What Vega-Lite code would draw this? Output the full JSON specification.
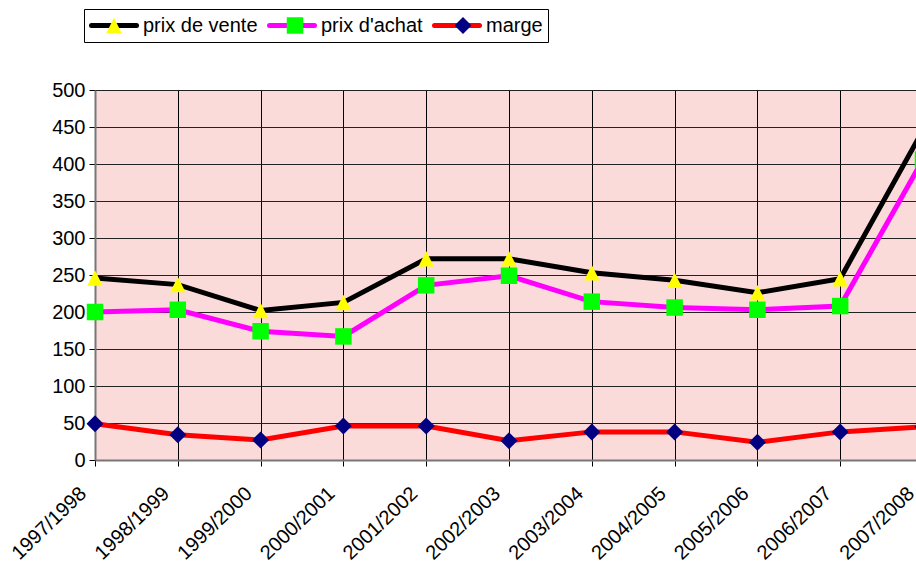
{
  "$schema": "https://vega.github.io/schema/vega-lite/v6.json",
  "width": 821,
  "height": 370,
  "autosize": {"type": "none"},
  "padding": {"left": 95, "top": 90, "right": 0, "bottom": 106},
  "background": "white",
  "config": {
    "view": {"fill": "#fbdada", "stroke": null},
    "font": "Liberation Sans"
  },
  "data": {
    "values": [
      {"annee": "1997/1998", "serie": "prix de vente", "valeur": 246},
      {"annee": "1998/1999", "serie": "prix de vente", "valeur": 237},
      {"annee": "1999/2000", "serie": "prix de vente", "valeur": 202},
      {"annee": "2000/2001", "serie": "prix de vente", "valeur": 213},
      {"annee": "2001/2002", "serie": "prix de vente", "valeur": 272},
      {"annee": "2002/2003", "serie": "prix de vente", "valeur": 272},
      {"annee": "2003/2004", "serie": "prix de vente", "valeur": 253},
      {"annee": "2004/2005", "serie": "prix de vente", "valeur": 243},
      {"annee": "2005/2006", "serie": "prix de vente", "valeur": 226},
      {"annee": "2006/2007", "serie": "prix de vente", "valeur": 245},
      {"annee": "2007/2008", "serie": "prix de vente", "valeur": 446},
      {"annee": "1997/1998", "serie": "prix d'achat", "valeur": 200},
      {"annee": "1998/1999", "serie": "prix d'achat", "valeur": 203},
      {"annee": "1999/2000", "serie": "prix d'achat", "valeur": 174},
      {"annee": "2000/2001", "serie": "prix d'achat", "valeur": 167},
      {"annee": "2001/2002", "serie": "prix d'achat", "valeur": 236},
      {"annee": "2002/2003", "serie": "prix d'achat", "valeur": 249},
      {"annee": "2003/2004", "serie": "prix d'achat", "valeur": 214},
      {"annee": "2004/2005", "serie": "prix d'achat", "valeur": 206},
      {"annee": "2005/2006", "serie": "prix d'achat", "valeur": 203},
      {"annee": "2006/2007", "serie": "prix d'achat", "valeur": 208},
      {"annee": "2007/2008", "serie": "prix d'achat", "valeur": 406},
      {"annee": "1997/1998", "serie": "marge", "valeur": 49},
      {"annee": "1998/1999", "serie": "marge", "valeur": 34},
      {"annee": "1999/2000", "serie": "marge", "valeur": 27},
      {"annee": "2000/2001", "serie": "marge", "valeur": 46},
      {"annee": "2001/2002", "serie": "marge", "valeur": 46},
      {"annee": "2002/2003", "serie": "marge", "valeur": 26},
      {"annee": "2003/2004", "serie": "marge", "valeur": 38},
      {"annee": "2004/2005", "serie": "marge", "valeur": 38},
      {"annee": "2005/2006", "serie": "marge", "valeur": 24},
      {"annee": "2006/2007", "serie": "marge", "valeur": 38},
      {"annee": "2007/2008", "serie": "marge", "valeur": 45}
    ]
  },
  "encoding": {
    "x": {
      "field": "annee",
      "type": "ordinal",
      "scale": {"type": "point", "padding": 0, "range": [0, 828],
        "domain": ["1997/1998","1998/1999","1999/2000","2000/2001","2001/2002","2002/2003","2003/2004","2004/2005","2005/2006","2006/2007","2007/2008"]},
      "axis": {
        "title": null,
        "labelAngle": -44,
        "labelAlign": "right",
        "labelBaseline": "top",
        "labelFontSize": 20,
        "labelColor": "black",
        "labelFont": "Liberation Sans",
        "labelPadding": 17,
        "labelOffset": -19,
        "labelOverlap": false,
        "labelBound": false,
        "grid": true,
        "gridColor": "black",
        "gridWidth": 1,
        "gridOpacity": 1,
        "tickColor": "black",
        "tickSize": 6,
        "domainColor": "#777777",
        "domainWidth": 2
      }
    },
    "y": {
      "field": "valeur",
      "type": "quantitative",
      "scale": {"domain": [0, 500], "nice": false, "zero": true},
      "axis": {
        "title": null,
        "values": [0, 50, 100, 150, 200, 250, 300, 350, 400, 450, 500],
        "labelFontSize": 20,
        "labelColor": "black",
        "labelFont": "Liberation Sans",
        "labelPadding": 4,
        "labelOverlap": false,
        "grid": true,
        "gridColor": "#222222",
        "gridWidth": 1,
        "gridOpacity": 1,
        "tickColor": "black",
        "tickSize": 6,
        "domainColor": "#777777",
        "domainWidth": 2
      }
    }
  },
  "layer": [
    {
      "mark": {"type": "line", "strokeWidth": 5},
      "encoding": {
        "stroke": {
          "field": "serie",
          "type": "nominal",
          "scale": {"domain": ["prix de vente", "prix d'achat", "marge"], "range": ["#000000", "#ff00ff", "#ff0000"]},
          "legend": {
            "title": null,
            "orient": "none",
            "legendX": -11,
            "legendY": -81,
            "direction": "horizontal",
            "symbolType": "M-1.8,0H1.8",
            "symbolSize": 625,
            "symbolStrokeWidth": 5,
            "symbolOffset": 10,
            "clipHeight": 23,
            "labelFontSize": 20,
            "labelFont": "Liberation Sans",
            "labelColor": "black",
            "labelOffset": 14,
            "labelLimit": 300,
            "columnPadding": 9,
            "padding": 5,
            "strokeColor": "black",
            "encode": {"symbols": {"update": {"strokeCap": {"value": "round"}}}}
          }
        },
        "detail": {"field": "serie"}
      }
    },
    {
      "mark": {"type": "point", "filled": true, "size": 625, "opacity": 1, "strokeWidth": 0},
      "encoding": {
        "fill": {
          "field": "serie",
          "type": "nominal",
          "scale": {"domain": ["prix de vente", "prix d'achat", "marge"], "range": ["#ffff00", "#00ff00", "#000080"]},
          "legend": {
            "title": null,
            "orient": "none",
            "legendX": -11,
            "legendY": -81,
            "direction": "horizontal",
            "symbolSize": 625,
            "symbolStrokeWidth": 0,
            "symbolOffset": 12.5,
            "clipHeight": 23,
            "labelFontSize": 20,
            "labelFont": "Liberation Sans",
            "labelOpacity": 0,
            "labelOffset": 19,
            "labelLimit": 300,
            "columnPadding": 9,
            "padding": 5
          }
        },
        "shape": {
          "field": "serie",
          "type": "nominal",
          "scale": {"domain": ["prix de vente", "prix d'achat", "marge"], "range": ["M0,-0.62L0.62,0.62L-0.62,0.62Z", "M-0.66,-0.66H0.66V0.66H-0.66Z", "M0,-0.68L0.68,0L0,0.68L-0.68,0Z"]},
          "legend": {
            "title": null,
            "orient": "none",
            "legendX": -11,
            "legendY": -81,
            "direction": "horizontal",
            "symbolSize": 625,
            "symbolStrokeWidth": 0,
            "symbolOffset": 12.5,
            "clipHeight": 23,
            "labelFontSize": 20,
            "labelFont": "Liberation Sans",
            "labelOpacity": 0,
            "labelOffset": 19,
            "labelLimit": 300,
            "columnPadding": 9,
            "padding": 5
          }
        }
      }
    }
  ],
  "resolve": {"legend": {"stroke": "independent", "fill": "independent", "shape": "independent"}}
}
